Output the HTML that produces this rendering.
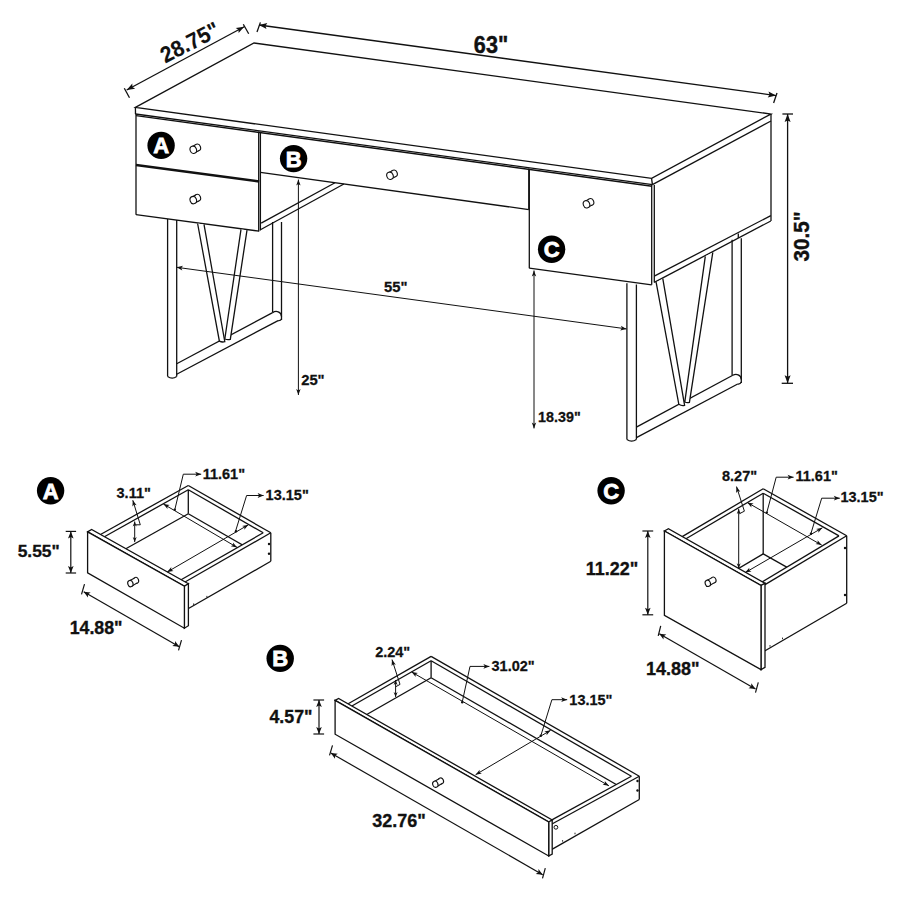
<!DOCTYPE html>
<html><head><meta charset="utf-8"><style>
html,body{margin:0;padding:0;background:#fff;}
svg{display:block;}
text{font-family:"Liberation Sans",sans-serif;font-weight:bold;}
</style></head><body>
<svg width="900" height="900" viewBox="0 0 900 900">
<g stroke="#111" stroke-width="1.3" fill="none" stroke-linecap="butt">
<path d="M135.4,107.4 L254,43 L771,114 L651.6,178.4 Z" fill="none"/>
<line x1="135.4" y1="107.4" x2="135.5" y2="114"/>
<line x1="651.6" y1="178.4" x2="652.4" y2="184.6"/>
<line x1="771" y1="114" x2="771" y2="121"/>
<line x1="135.5" y1="114" x2="652.4" y2="184.6"/>
<line x1="652.4" y1="184.6" x2="771" y2="121"/>
<line x1="136" y1="115.6" x2="652" y2="186.2" stroke-width="1.4"/>
<line x1="136" y1="114" x2="136" y2="214.7"/>
<line x1="136" y1="165" x2="259.2" y2="181.5" stroke-width="2.4"/>
<line x1="136" y1="214.7" x2="259.2" y2="231.2"/>
<line x1="258.7" y1="131.6" x2="258.7" y2="231.2"/>
<line x1="260.4" y1="131.8" x2="260.4" y2="230.5"/>
<line x1="260.4" y1="172.4" x2="528.8" y2="209.6"/>
<line x1="528.8" y1="168.5" x2="528.8" y2="209.6"/>
<line x1="261.2" y1="223.1" x2="335" y2="182.8"/>
<line x1="260.4" y1="229.8" x2="343.9" y2="184.0"/>
<line x1="529.3" y1="169.6" x2="529.3" y2="268.2"/>
<line x1="529.3" y1="268.2" x2="651.7" y2="284.8"/>
<line x1="651.7" y1="184.6" x2="651.7" y2="284.8"/>
<line x1="654.3" y1="185" x2="654.3" y2="282.4"/>
<line x1="771" y1="121" x2="771" y2="221"/>
<line x1="654.3" y1="276.2" x2="770.8" y2="215.6"/>
<line x1="654.3" y1="282.4" x2="770.8" y2="221"/>
<line x1="738.3" y1="233.4" x2="738.3" y2="238.1"/>
<circle cx="161.1" cy="145.4" r="13.7" fill="#000" stroke="none"/>
<text x="161.1" y="153.3" font-size="22" text-anchor="middle" fill="#fff" stroke="#fff" stroke-width="0.8">A</text>
<circle cx="293.6" cy="158.6" r="13.7" fill="#000" stroke="none"/>
<text x="293.6" y="166.5" font-size="22" text-anchor="middle" fill="#fff" stroke="#fff" stroke-width="0.8">B</text>
<circle cx="551.6" cy="249.3" r="13.7" fill="#000" stroke="none"/>
<text x="551.6" y="257.2" font-size="22" text-anchor="middle" fill="#fff" stroke="#fff" stroke-width="0.8">C</text>
<ellipse cx="197.50" cy="147.50" rx="3.04" ry="3.52" transform="rotate(-20 197.50 147.50)" fill="#fff" stroke-width="1.1"/>
<polygon points="194.96,152.83 199.07,150.37 195.93,144.63 191.64,146.77" fill="#fff" stroke="none"/>
<path d="M194.96,152.83 L199.07,150.37 M195.93,144.63 L191.64,146.77" stroke-width="1.1"/>
<ellipse cx="193.3" cy="149.8" rx="3.2" ry="3.7" transform="rotate(-20 193.3 149.8)" fill="#fff" stroke-width="1.1"/>
<ellipse cx="197.50" cy="197.80" rx="3.04" ry="3.52" transform="rotate(-20 197.50 197.80)" fill="#fff" stroke-width="1.1"/>
<polygon points="194.96,203.13 199.07,200.67 195.93,194.93 191.64,197.07" fill="#fff" stroke="none"/>
<path d="M194.96,203.13 L199.07,200.67 M195.93,194.93 L191.64,197.07" stroke-width="1.1"/>
<ellipse cx="193.3" cy="200.1" rx="3.2" ry="3.7" transform="rotate(-20 193.3 200.1)" fill="#fff" stroke-width="1.1"/>
<ellipse cx="394.20" cy="173.50" rx="3.04" ry="3.52" transform="rotate(-20 394.20 173.50)" fill="#fff" stroke-width="1.1"/>
<polygon points="391.66,178.83 395.77,176.37 392.63,170.63 388.34,172.77" fill="#fff" stroke="none"/>
<path d="M391.66,178.83 L395.77,176.37 M392.63,170.63 L388.34,172.77" stroke-width="1.1"/>
<ellipse cx="390.0" cy="175.8" rx="3.2" ry="3.7" transform="rotate(-20 390.0 175.8)" fill="#fff" stroke-width="1.1"/>
<ellipse cx="590.70" cy="202.00" rx="3.04" ry="3.52" transform="rotate(-20 590.70 202.00)" fill="#fff" stroke-width="1.1"/>
<polygon points="588.16,207.33 592.27,204.87 589.13,199.13 584.84,201.27" fill="#fff" stroke="none"/>
<path d="M588.16,207.33 L592.27,204.87 M589.13,199.13 L584.84,201.27" stroke-width="1.1"/>
<ellipse cx="586.5" cy="204.3" rx="3.2" ry="3.7" transform="rotate(-20 586.5 204.3)" fill="#fff" stroke-width="1.1"/>
<line x1="167.6" y1="219" x2="167.6" y2="376.5"/>
<line x1="176.7" y1="220" x2="176.7" y2="376.5"/>
<path d="M167.6,376.5 Q172.2,379.8 176.7,376.5" fill="none"/>
<line x1="176.7" y1="363.8" x2="272.6" y2="312.6"/>
<line x1="176.7" y1="374.2" x2="278.1" y2="320.6"/>
<line x1="272.6" y1="222" x2="272.6" y2="312.6"/>
<line x1="281.5" y1="222" x2="281.5" y2="320"/>
<path d="M272.6,312.6 C276,310.3 281.3,311.5 281.5,316.5 M278.1,320.6 Q280.5,321 281.5,319" fill="none"/>
<polygon points="241,229.4 247,230.2 230.3,339.4 224.8,339" fill="#fff" stroke="none"/>
<path d="M241,229.4 L224.8,339 Q227.6,340.2 230.3,339.4 L247,230.2" fill="none"/>
<polygon points="197.6,223.5 204,224.4 224.8,341.7 219.4,341.2" fill="#fff" stroke="none"/>
<path d="M197.6,223.5 L219.4,341.2 Q222.1,342.5 224.8,341.7 L204,224.4" fill="none"/>
<line x1="626.9" y1="283.3" x2="626.9" y2="439.5"/>
<line x1="636.4" y1="284.5" x2="636.4" y2="439.5"/>
<path d="M626.9,439.5 Q631.6,442.8 636.4,439.5" fill="none"/>
<line x1="636.4" y1="427.1" x2="732.8" y2="375.3"/>
<line x1="636.4" y1="437.6" x2="737.7" y2="384"/>
<line x1="732.1" y1="239.7" x2="732.1" y2="375.3"/>
<line x1="741.3" y1="238.3" x2="741.3" y2="383"/>
<path d="M732.8,375.3 C736,373.3 741.1,374.5 741.3,379.5 M737.7,384 Q740.3,384.4 741.3,382" fill="none"/>
<polygon points="705.3,256.3 712.8,252.4 689.4,402.4 684.8,402" fill="#fff" stroke="none"/>
<path d="M705.3,256.3 L684.8,402 Q687.1,403.2 689.4,402.4 L712.8,252.4" fill="none"/>
<polygon points="656.1,282.2 662.8,278.7 684.6,405.3 678.8,404.2" fill="#fff" stroke="none"/>
<path d="M656.1,282.2 L678.8,404.2 Q681.7,406.1 684.6,405.3 L662.8,278.7" fill="none"/>
<line x1="126.7" y1="90" x2="244.2" y2="26.7"/>
<path d="M126.7,90.0 L132.3,83.6 L132.4,86.9 L135.2,88.8 Z" fill="#111" stroke="none"/>
<path d="M244.2,26.7 L238.6,33.1 L238.5,29.8 L235.7,27.9 Z" fill="#111" stroke="none"/>
<line x1="124.3" y1="88.3" x2="129.5" y2="97.7"/>
<line x1="243.3" y1="24.2" x2="248.7" y2="33.8"/>
<text x="0" y="0" font-size="22.5" text-anchor="middle" fill="#111" stroke="#111" stroke-width="0.15" transform="translate(193.4,49.2) rotate(-27) scale(0.94,1)">28.75"</text>
<line x1="259" y1="25" x2="776" y2="95.6"/>
<path d="M259.0,25.0 L267.3,23.1 L265.4,25.9 L266.5,29.1 Z" fill="#111" stroke="none"/>
<path d="M776.0,95.6 L767.7,97.5 L769.6,94.7 L768.5,91.5 Z" fill="#111" stroke="none"/>
<line x1="257" y1="32" x2="260.4" y2="22.4"/>
<line x1="773.6" y1="103" x2="777" y2="93"/>
<text x="0" y="0" font-size="23.5" text-anchor="middle" fill="#111" stroke="#111" stroke-width="0.42" transform="translate(491,52.6) rotate(0) scale(0.92,1)">63"</text>
<line x1="787.6" y1="114" x2="787.6" y2="383.3"/>
<path d="M787.6,114.0 L790.6,122.0 L787.6,120.5 L784.6,122.0 Z" fill="#111" stroke="none"/>
<path d="M787.6,383.3 L784.6,375.3 L787.6,376.8 L790.6,375.3 Z" fill="#111" stroke="none"/>
<line x1="782.4" y1="114" x2="793" y2="114"/>
<line x1="781.7" y1="383.3" x2="793" y2="383.3"/>
<text x="0" y="0" font-size="21.8" text-anchor="middle" fill="#111" stroke="#111" stroke-width="0.39" transform="translate(809,236.5) rotate(-90) scale(0.95,1)">30.5"</text>
<line x1="176.7" y1="267.3" x2="626.5" y2="328.9" stroke-width="1"/>
<path d="M176.7,267.3 L183.0,265.7 L181.2,267.9 L182.3,270.5 Z" fill="#111" stroke="none"/>
<path d="M626.5,328.9 L620.2,330.5 L622.0,328.3 L620.9,325.7 Z" fill="#111" stroke="none"/>
<text x="395.8" y="291.8" font-size="14.8" text-anchor="middle" fill="#111" stroke="#111" stroke-width="0.27">55"</text>
<line x1="298.4" y1="179.6" x2="298.4" y2="395" stroke-width="1"/>
<path d="M298.4,179.6 L300.6,185.6 L298.4,184.1 L296.2,185.6 Z" fill="#111" stroke="none"/>
<path d="M298.4,395.0 L296.2,389.0 L298.4,390.5 L300.6,389.0 Z" fill="#111" stroke="none"/>
<text x="312.9" y="384.9" font-size="14.8" text-anchor="middle" fill="#111" stroke="#111" stroke-width="0.27">25"</text>
<line x1="534" y1="270.5" x2="534" y2="428.4" stroke-width="1"/>
<path d="M534.0,270.5 L536.2,276.5 L534.0,275.0 L531.8,276.5 Z" fill="#111" stroke="none"/>
<path d="M534.0,428.4 L531.8,422.4 L534.0,423.9 L536.2,422.4 Z" fill="#111" stroke="none"/>
<text x="559.4" y="421.9" font-size="14.3" text-anchor="middle" fill="#111" stroke="#111" stroke-width="0.26">18.39"</text>
<line x1="188.3" y1="489.8" x2="188.3" y2="513.8"/>
<line x1="188.3" y1="513.8" x2="104.4" y2="560.7"/>
<line x1="188.3" y1="513.8" x2="263.2" y2="556.8"/>
<polygon points="181.1,579.8 263.2,532.8 270.8,532.8 270.8,561.3 185.0,610.5 185.0,582.0" fill="#fff" stroke="none"/>
<line x1="181.1" y1="579.8" x2="263.2" y2="532.8"/>
<line x1="185" y1="582" x2="270.8" y2="532.8"/>
<line x1="270.8" y1="532.8" x2="270.8" y2="561.3"/>
<line x1="270.8" y1="561.3" x2="185" y2="610.5"/>
<line x1="100.5" y1="534.5" x2="188.3" y2="485.5"/>
<line x1="188.3" y1="485.5" x2="270.8" y2="532.8"/>
<line x1="104.4" y1="536.7" x2="188.3" y2="489.8"/>
<line x1="188.3" y1="489.8" x2="263.2" y2="532.8"/>
<polygon points="87.6,531.9 91.6,529.4 188.4,583.7 184.4,586.2" fill="#fff"/>
<polygon points="184.4,586.2 188.4,583.7 188.4,625.7 184.4,628.2" fill="#fff"/>
<polygon points="87.6,531.9 184.4,586.2 184.4,628.2 87.6,572.8" fill="#fff"/>
<line x1="763.2" y1="493.2" x2="763.2" y2="553.9"/>
<line x1="763.2" y1="553.9" x2="686.0" y2="599.5"/>
<line x1="763.2" y1="553.9" x2="839.0" y2="596.6"/>
<polygon points="760.4,582.9 839.0,535.9 846.7,535.7 846.7,603.3 764.2,651.3 764.2,585.1" fill="#fff" stroke="none"/>
<line x1="760.4" y1="582.9" x2="839.0" y2="535.9"/>
<line x1="764.2" y1="585.1" x2="846.7" y2="535.7"/>
<line x1="846.7" y1="535.7" x2="846.7" y2="603.3"/>
<line x1="846.7" y1="603.3" x2="764.2" y2="651.3"/>
<line x1="682.2" y1="536.6" x2="763.2" y2="488.8"/>
<line x1="763.2" y1="488.8" x2="846.7" y2="535.7"/>
<line x1="686.0" y1="538.8" x2="763.2" y2="493.2"/>
<line x1="763.2" y1="493.2" x2="839.0" y2="535.9"/>
<polygon points="664.4,531.0 668.4,528.8 765.0,583.3 761.0,585.5" fill="#fff"/>
<polygon points="761.0,585.5 765.0,583.3 765.0,667.4 761.0,669.6" fill="#fff"/>
<polygon points="664.4,531.0 761.0,585.5 761.0,669.6 664.4,615.3" fill="#fff"/>
<line x1="431.1" y1="660.8" x2="431.1" y2="677.8"/>
<line x1="431.1" y1="677.8" x2="351.9" y2="723.0"/>
<line x1="431.1" y1="677.8" x2="631.4" y2="793.2"/>
<polygon points="547.8,822.1 631.4,776.2 639.3,776.2 639.3,799.5 551.5,849.6 551.5,824.3" fill="#fff" stroke="none"/>
<line x1="547.8" y1="822.1" x2="631.4" y2="776.2"/>
<line x1="551.5" y1="824.3" x2="639.3" y2="776.2"/>
<line x1="639.3" y1="776.2" x2="639.3" y2="799.5"/>
<line x1="639.3" y1="799.5" x2="551.5" y2="849.6"/>
<line x1="348.2" y1="703.8" x2="431.1" y2="656.4"/>
<line x1="431.1" y1="656.4" x2="639.3" y2="776.2"/>
<line x1="351.9" y1="706.0" x2="431.1" y2="660.8"/>
<line x1="431.1" y1="660.8" x2="631.4" y2="776.2"/>
<polygon points="335.1,700.4 338.6,698.4 552.2,820.0 548.7,822.0" fill="#fff"/>
<polygon points="548.7,822.0 552.2,820.0 552.2,854.0 548.7,856.0" fill="#fff"/>
<polygon points="335.1,700.4 548.7,822.0 548.7,856.0 335.1,734.2" fill="#fff"/>
<circle cx="269" cy="544" r="1.2" fill="#111" stroke="none"/>
<circle cx="269" cy="553.7" r="1.2" fill="#111" stroke="none"/>
<circle cx="845" cy="548" r="1.2" fill="#111" stroke="none"/>
<circle cx="845" cy="595" r="1.2" fill="#111" stroke="none"/>
<circle cx="637.5" cy="781" r="1.2" fill="#111" stroke="none"/>
<circle cx="637.5" cy="790.5" r="1.2" fill="#111" stroke="none"/>
<circle cx="236" cy="531.3" r="1.2" fill="#111" stroke="none"/>
<circle cx="174.8" cy="509.7" r="1.2" fill="#111" stroke="none"/>
<circle cx="811" cy="533.7" r="1.2" fill="#111" stroke="none"/>
<circle cx="766.8" cy="512.6" r="1.2" fill="#111" stroke="none"/>
<circle cx="462.2" cy="702.2" r="1.2" fill="#111" stroke="none"/>
<circle cx="540.8" cy="735.8" r="1.2" fill="#111" stroke="none"/>
<circle cx="555.9" cy="827.3" rx="1.8" r="1.9" fill="#fff" stroke-width="1"/>
<line x1="206.9" y1="597.5" x2="206.9" y2="595.9" stroke-width="0.9"/>
<line x1="193.7" y1="605" x2="193.7" y2="603.4" stroke-width="0.9"/>
<line x1="782.5" y1="639.2" x2="782.5" y2="637.6" stroke-width="0.9"/>
<line x1="770" y1="646.7" x2="770" y2="645.1" stroke-width="0.9"/>
<line x1="562.6" y1="841.7" x2="562.6" y2="840.1" stroke-width="0.9"/>
<line x1="575" y1="834.3" x2="575" y2="832.6999999999999" stroke-width="0.9"/>
<circle cx="50.6" cy="490.7" r="13.7" fill="#000" stroke="none"/>
<text x="50.6" y="498.6" font-size="22" text-anchor="middle" fill="#fff" stroke="#fff" stroke-width="0.8">A</text>
<circle cx="611.1" cy="490.7" r="13.7" fill="#000" stroke="none"/>
<text x="611.1" y="498.6" font-size="22" text-anchor="middle" fill="#fff" stroke="#fff" stroke-width="0.8">C</text>
<circle cx="280.2" cy="658.4" r="13.7" fill="#000" stroke="none"/>
<text x="280.2" y="666.3" font-size="22" text-anchor="middle" fill="#fff" stroke="#fff" stroke-width="0.8">B</text>
<ellipse cx="136.10" cy="580.30" rx="2.47" ry="3.04" transform="rotate(-20 136.10 580.30)" fill="#fff" stroke-width="1.1"/>
<polygon points="131.85,586.11 137.48,582.68 134.72,577.92 128.95,581.09" fill="#fff" stroke="none"/>
<path d="M131.85,586.11 L137.48,582.68 M134.72,577.92 L128.95,581.09" stroke-width="1.1"/>
<ellipse cx="130.4" cy="583.6" rx="2.6" ry="3.2" transform="rotate(-20 130.4 583.6)" fill="#fff" stroke-width="1.1"/>
<ellipse cx="713.50" cy="580.00" rx="2.47" ry="3.04" transform="rotate(-20 713.50 580.00)" fill="#fff" stroke-width="1.1"/>
<polygon points="709.25,585.81 714.88,582.38 712.12,577.62 706.35,580.79" fill="#fff" stroke="none"/>
<path d="M709.25,585.81 L714.88,582.38 M712.12,577.62 L706.35,580.79" stroke-width="1.1"/>
<ellipse cx="707.8" cy="583.3" rx="2.6" ry="3.2" transform="rotate(-20 707.8 583.3)" fill="#fff" stroke-width="1.1"/>
<ellipse cx="441.00" cy="780.90" rx="2.47" ry="3.04" transform="rotate(-20 441.00 780.90)" fill="#fff" stroke-width="1.1"/>
<polygon points="436.75,786.71 442.38,783.28 439.62,778.52 433.85,781.69" fill="#fff" stroke="none"/>
<path d="M436.75,786.71 L442.38,783.28 M439.62,778.52 L433.85,781.69" stroke-width="1.1"/>
<ellipse cx="435.3" cy="784.2" rx="2.6" ry="3.2" transform="rotate(-20 435.3 784.2)" fill="#fff" stroke-width="1.1"/>
<line x1="70.8" y1="531.4" x2="70.8" y2="573" stroke-width="1.2"/>
<path d="M70.8,531.4 L73.6,538.4 L70.8,536.9 L68.0,538.4 Z" fill="#111" stroke="none"/>
<path d="M70.8,573.0 L68.0,566.0 L70.8,567.5 L73.6,566.0 Z" fill="#111" stroke="none"/>
<line x1="65.7" y1="531.4" x2="76.1" y2="531.4" stroke-width="1.2"/>
<line x1="65.7" y1="573" x2="76.1" y2="573" stroke-width="1.2"/>
<text x="38.7" y="557" font-size="17.4" text-anchor="middle" fill="#111" stroke="#111" stroke-width="0.31">5.55"</text>
<line x1="83.7" y1="591.7" x2="179.3" y2="646.7" stroke-width="1.2"/>
<path d="M83.7,591.7 L90.7,592.5 L88.0,594.2 L87.9,597.4 Z" fill="#111" stroke="none"/>
<path d="M179.3,646.7 L172.3,645.9 L175.0,644.2 L175.1,641.0 Z" fill="#111" stroke="none"/>
<line x1="84.5" y1="584.2" x2="81.5" y2="594.3" stroke-width="1.2"/>
<line x1="181.5" y1="640.2" x2="178.5" y2="650.3" stroke-width="1.2"/>
<text x="96.1" y="633.5" font-size="17.8" text-anchor="middle" fill="#111" stroke="#111" stroke-width="0.32">14.88"</text>
<line x1="134.7" y1="521.5" x2="134.7" y2="542.1" stroke-width="1"/>
<path d="M134.7,521.5 L136.7,526.5 L134.7,525.0 L132.7,526.5 Z" fill="#111" stroke="none"/>
<path d="M134.7,542.1 L132.7,537.1 L134.7,538.6 L136.7,537.1 Z" fill="#111" stroke="none"/>
<line x1="132.8" y1="500.2" x2="140.3" y2="524.8" stroke-width="1"/>
<path d="M132.8,500.2 L136.6,505.3 L134.1,504.5 L132.4,506.6 Z" fill="#111" stroke="none"/>
<line x1="140.3" y1="524.8" x2="136" y2="524.8" stroke-width="1"/>
<text x="133.7" y="497.6" font-size="14.5" text-anchor="middle" fill="#111" stroke="#111" stroke-width="0.26">3.11"</text>
<line x1="163.4" y1="504" x2="237.1" y2="547.4" stroke-width="1"/>
<path d="M163.4,504.0 L169.7,505.1 L167.3,506.3 L167.5,508.9 Z" fill="#111" stroke="none"/>
<path d="M237.1,547.4 L230.8,546.3 L233.2,545.1 L233.0,542.5 Z" fill="#111" stroke="none"/>
<line x1="174.8" y1="509.7" x2="183.3" y2="474.2" stroke-width="1"/>
<line x1="183.3" y1="474.2" x2="201.2" y2="474.2" stroke-width="1"/>
<path d="M201.2,474.2 L195.2,476.6 L196.7,474.2 L195.2,471.8 Z" fill="#111" stroke="none"/>
<text x="223.9" y="478.6" font-size="14.5" text-anchor="middle" fill="#111" stroke="#111" stroke-width="0.26">11.61"</text>
<line x1="167.2" y1="572" x2="248.4" y2="524.8" stroke-width="1"/>
<path d="M167.2,572.0 L171.3,567.1 L171.1,569.7 L173.5,570.9 Z" fill="#111" stroke="none"/>
<path d="M248.4,524.8 L244.3,529.7 L244.5,527.1 L242.1,525.9 Z" fill="#111" stroke="none"/>
<line x1="235.2" y1="532.3" x2="246.6" y2="495.5" stroke-width="1"/>
<line x1="246.6" y1="495.5" x2="263.6" y2="495.5" stroke-width="1"/>
<path d="M263.6,495.5 L257.6,497.9 L259.1,495.5 L257.6,493.1 Z" fill="#111" stroke="none"/>
<text x="287.2" y="500.3" font-size="14.5" text-anchor="middle" fill="#111" stroke="#111" stroke-width="0.26">13.15"</text>
<line x1="647.8" y1="531" x2="647.8" y2="614.8" stroke-width="1.2"/>
<path d="M647.8,531.0 L650.6,538.0 L647.8,536.5 L645.0,538.0 Z" fill="#111" stroke="none"/>
<path d="M647.8,614.8 L645.0,607.8 L647.8,609.3 L650.6,607.8 Z" fill="#111" stroke="none"/>
<line x1="642.4" y1="531" x2="653.2" y2="531" stroke-width="1.2"/>
<line x1="642.4" y1="614.8" x2="653.2" y2="614.8" stroke-width="1.2"/>
<text x="612" y="574.6" font-size="18" text-anchor="middle" fill="#111" stroke="#111" stroke-width="0.32">11.22"</text>
<line x1="659.3" y1="633.7" x2="755.5" y2="689" stroke-width="1.2"/>
<path d="M659.3,633.7 L666.3,634.5 L663.6,636.2 L663.5,639.4 Z" fill="#111" stroke="none"/>
<path d="M755.5,689.0 L748.5,688.2 L751.2,686.5 L751.3,683.3 Z" fill="#111" stroke="none"/>
<line x1="660.7" y1="625.8" x2="658.2" y2="635.8" stroke-width="1.2"/>
<line x1="758.3" y1="682.3" x2="755.5" y2="692.7" stroke-width="1.2"/>
<text x="672.8" y="675.3" font-size="18" text-anchor="middle" fill="#111" stroke="#111" stroke-width="0.32">14.88"</text>
<line x1="738.7" y1="509" x2="738.7" y2="568.2" stroke-width="1"/>
<path d="M738.7,509.0 L740.7,514.0 L738.7,512.5 L736.7,514.0 Z" fill="#111" stroke="none"/>
<path d="M738.7,568.2 L736.7,563.2 L738.7,564.7 L740.7,563.2 Z" fill="#111" stroke="none"/>
<line x1="736.5" y1="486.6" x2="744.4" y2="511.2" stroke-width="1"/>
<line x1="744.4" y1="511.2" x2="739.2" y2="513.8" stroke-width="1"/>
<path d="M736.5,486.6 L740.3,491.7 L737.8,490.9 L736.1,493.0 Z" fill="#111" stroke="none"/>
<text x="739.6" y="480.9" font-size="14.5" text-anchor="middle" fill="#111" stroke="#111" stroke-width="0.26">8.27"</text>
<line x1="747.3" y1="502.5" x2="821.7" y2="545.1" stroke-width="1"/>
<path d="M747.3,502.5 L753.6,503.6 L751.2,504.7 L751.4,507.4 Z" fill="#111" stroke="none"/>
<path d="M821.7,545.1 L815.4,544.0 L817.8,542.9 L817.6,540.2 Z" fill="#111" stroke="none"/>
<line x1="766.8" y1="512.6" x2="776.2" y2="477.2" stroke-width="1"/>
<line x1="776.2" y1="477.2" x2="793.6" y2="477.2" stroke-width="1"/>
<path d="M793.6,477.2 L787.6,479.6 L789.1,477.2 L787.6,474.8 Z" fill="#111" stroke="none"/>
<text x="816.7" y="480.9" font-size="14.5" text-anchor="middle" fill="#111" stroke="#111" stroke-width="0.26">11.61"</text>
<line x1="745.2" y1="572.6" x2="822.4" y2="527.8" stroke-width="1"/>
<path d="M745.2,572.6 L749.3,567.7 L749.1,570.3 L751.5,571.5 Z" fill="#111" stroke="none"/>
<path d="M822.4,527.8 L818.3,532.7 L818.5,530.1 L816.1,528.9 Z" fill="#111" stroke="none"/>
<line x1="810.9" y1="533.6" x2="821.7" y2="498.2" stroke-width="1"/>
<line x1="821.7" y1="498.2" x2="839.8" y2="498.2" stroke-width="1"/>
<path d="M839.8,498.2 L833.8,500.6 L835.3,498.2 L833.8,495.8 Z" fill="#111" stroke="none"/>
<text x="862" y="501.9" font-size="14.5" text-anchor="middle" fill="#111" stroke="#111" stroke-width="0.26">13.15"</text>
<line x1="319" y1="700" x2="319" y2="734" stroke-width="1.2"/>
<path d="M319.0,700.0 L321.8,707.0 L319.0,705.5 L316.2,707.0 Z" fill="#111" stroke="none"/>
<path d="M319.0,734.0 L316.2,727.0 L319.0,728.5 L321.8,727.0 Z" fill="#111" stroke="none"/>
<line x1="313.4" y1="700" x2="324.1" y2="700" stroke-width="1.2"/>
<line x1="313.4" y1="734" x2="324.1" y2="734" stroke-width="1.2"/>
<text x="291" y="723.4" font-size="17.8" text-anchor="middle" fill="#111" stroke="#111" stroke-width="0.32">4.57"</text>
<line x1="330.8" y1="753" x2="542.7" y2="874.7" stroke-width="1.2"/>
<path d="M330.8,753.0 L337.8,753.8 L335.1,755.5 L335.0,758.7 Z" fill="#111" stroke="none"/>
<path d="M542.7,874.7 L535.7,873.9 L538.4,872.2 L538.5,869.0 Z" fill="#111" stroke="none"/>
<line x1="332.5" y1="745.3" x2="329.5" y2="755.3" stroke-width="1.2"/>
<line x1="545.3" y1="868.2" x2="542.5" y2="878.3" stroke-width="1.2"/>
<text x="399" y="826.8" font-size="18" text-anchor="middle" fill="#111" stroke="#111" stroke-width="0.32">32.76"</text>
<line x1="395.6" y1="680" x2="395.6" y2="696.9" stroke-width="1"/>
<path d="M395.6,680.0 L397.6,685.0 L395.6,683.5 L393.6,685.0 Z" fill="#111" stroke="none"/>
<path d="M395.6,696.9 L393.6,691.9 L395.6,693.4 L397.6,691.9 Z" fill="#111" stroke="none"/>
<line x1="392" y1="659.6" x2="400" y2="684.4" stroke-width="1"/>
<line x1="400" y1="684.4" x2="396" y2="686.6" stroke-width="1"/>
<path d="M392.0,659.6 L395.8,664.7 L393.3,663.9 L391.6,666.0 Z" fill="#111" stroke="none"/>
<text x="392.7" y="656.5" font-size="14.5" text-anchor="middle" fill="#111" stroke="#111" stroke-width="0.26">2.24"</text>
<line x1="411.6" y1="672" x2="608.9" y2="785.8" stroke-width="1"/>
<path d="M411.6,672.0 L417.9,673.1 L415.5,674.2 L415.7,676.9 Z" fill="#111" stroke="none"/>
<path d="M608.9,785.8 L602.6,784.7 L605.0,783.6 L604.8,780.9 Z" fill="#111" stroke="none"/>
<line x1="462.2" y1="702.2" x2="470" y2="666.4" stroke-width="1"/>
<line x1="470" y1="666.4" x2="489.4" y2="666.4" stroke-width="1"/>
<path d="M489.4,666.4 L483.4,668.8 L484.9,666.4 L483.4,664.0 Z" fill="#111" stroke="none"/>
<text x="513.1" y="670.7" font-size="14.5" text-anchor="middle" fill="#111" stroke="#111" stroke-width="0.26">31.02"</text>
<line x1="475.6" y1="774.7" x2="550.6" y2="730.3" stroke-width="1"/>
<path d="M475.6,774.7 L479.6,769.8 L479.5,772.4 L481.9,773.5 Z" fill="#111" stroke="none"/>
<path d="M550.6,730.3 L546.6,735.2 L546.7,732.6 L544.3,731.5 Z" fill="#111" stroke="none"/>
<line x1="540.8" y1="735.8" x2="551.9" y2="699.7" stroke-width="1"/>
<line x1="551.9" y1="699.7" x2="567.2" y2="699.7" stroke-width="1"/>
<path d="M567.2,699.7 L561.2,702.1 L562.7,699.7 L561.2,697.3 Z" fill="#111" stroke="none"/>
<text x="590.9" y="705.4" font-size="14.5" text-anchor="middle" fill="#111" stroke="#111" stroke-width="0.26">13.15"</text>
</g>
</svg>
</body></html>
